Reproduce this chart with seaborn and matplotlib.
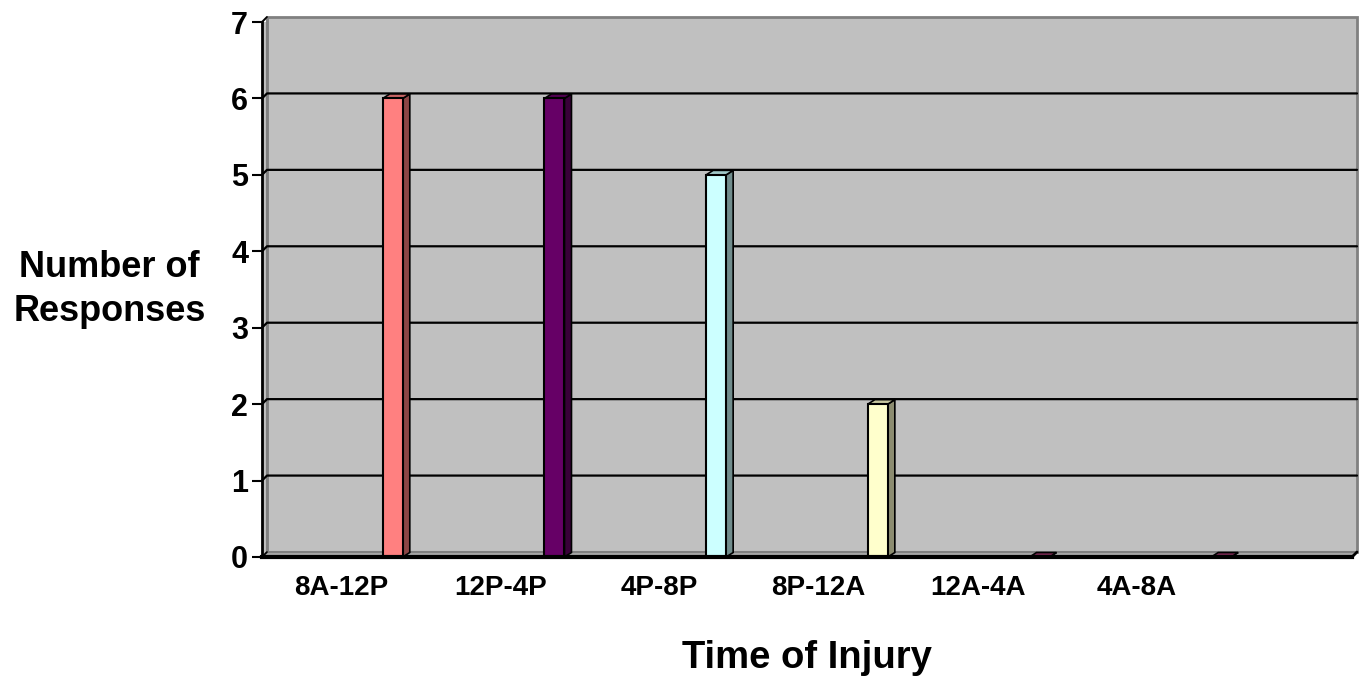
import numpy as np
import pandas as pd
import seaborn as sns
import matplotlib
matplotlib.use("Agg")
import matplotlib.pyplot as plt
import matplotlib.colors as mcolors
from matplotlib.patches import Polygon, Rectangle

# Reported injuries by time-of-day window
categories = ["8A-12P", "12P-4P", "4P-8P", "8P-12A", "12A-4A", "4A-8A"]
responses = [6, 6, 5, 2, 0, 0]
series_of_category = ["S6", "S5", "S4", "S3", "S2", "S2"]
series_order = ["S2", "S3", "S4", "S5", "S6"]
series_colors = {
    "S2": "#993366",
    "S3": "#FFFFCC",
    "S4": "#CCFFFF",
    "S5": "#660066",
    "S6": "#FF8080",
}
y_ticks = [0, 1, 2, 3, 4, 5, 6, 7]

df = pd.DataFrame({"window": categories, "responses": responses, "series": series_of_category})

sns.set_theme(style="white")
plt.rcParams["font.family"] = ["Liberation Sans", "DejaVu Sans"]
plt.rcParams["font.weight"] = "bold"

W, H = 1364, 677
fig = plt.figure(figsize=(W / 100, H / 100), dpi=100)
ax_l, ax_b, ax_w, ax_h = 262, 120, 1090, 535
ax = fig.add_axes([ax_l / W, ax_b / H, ax_w / W, ax_h / H])
ax.set_facecolor("#C0C0C0")

sns.barplot(
    data=df, x="window", y="responses", hue="series",
    order=categories, hue_order=series_order, palette=series_colors,
    dodge=True, width=0.55, saturation=1, errorbar=None,
    edgecolor="black", linewidth=1.5, legend=False, ax=ax, zorder=4,
)
bars = list(ax.patches)

ax.set_ylim(0, 7)
ax.set_xlim(-0.5, len(categories) - 0.5)

# depth of the back wall (pixels -> axes / data units)
px_x = ax_w / len(categories)      # pixels per category
px_y = ax_h / 7.0                  # pixels per unit
wall_dx = 5 / ax_w
wall_dy_ax = 5 / ax_h
wall_dy = 5 / px_y

# back wall
wall = Rectangle((wall_dx, wall_dy_ax), 1, 1, transform=ax.transAxes,
                 facecolor="#C0C0C0", edgecolor="#808080", lw=2,
                 zorder=0.5, clip_on=False)
ax.add_patch(wall)

# floor strip
floor = Polygon([(0, 0), (1, 0), (1 + wall_dx, wall_dy_ax), (wall_dx, wall_dy_ax)],
                closed=True, transform=ax.transAxes, facecolor="#A8A8A8",
                edgecolor="#808080", lw=1.5, zorder=1, clip_on=False)
ax.add_patch(floor)
ax.plot([1, 1 + wall_dx], [0, wall_dy_ax], transform=ax.transAxes,
        color="black", lw=2, zorder=1.2, clip_on=False)
ax.plot([0, wall_dx], [1, 1 + wall_dy_ax], transform=ax.transAxes,
        color="#808080", lw=1.5, zorder=1.2, clip_on=False)
ax.plot([wall_dx, wall_dx], [wall_dy_ax, 1 + wall_dy_ax], transform=ax.transAxes,
        color="#808080", lw=1.5, zorder=1.2, clip_on=False)

# gridlines on the back wall, joined to the tick marks
ytr = ax.get_yaxis_transform()
for v in y_ticks[1:-1]:
    ax.plot([0, wall_dx, 1 + wall_dx], [v, v + wall_dy, v + wall_dy],
            transform=ytr, color="black", lw=1.6, zorder=2, clip_on=False)
for v in (0, 7):
    ax.plot([0, wall_dx], [v, v + wall_dy], transform=ytr,
            color="black", lw=1.2, zorder=2, clip_on=False)


def shade(c, f):
    r, g, b, _ = mcolors.to_rgba(c)
    return (r * f, g * f, b * f)


# 3-D sides and tops for each column
bar_dx = 7 / px_x
bar_dy = 4.5 / px_y
for p in bars:
    x0, w, h = p.get_x(), p.get_width(), p.get_height()
    fc = p.get_facecolor()
    side = Polygon([(x0 + w, 0), (x0 + w + bar_dx, bar_dy),
                    (x0 + w + bar_dx, h + bar_dy), (x0 + w, h)],
                   closed=True, facecolor=shade(fc, 0.55), edgecolor="black",
                   lw=1.2, zorder=3.8, clip_on=False)
    top = Polygon([(x0, h), (x0 + bar_dx, h + bar_dy),
                   (x0 + w + bar_dx, h + bar_dy), (x0 + w, h)],
                  closed=True, facecolor=shade(fc, 0.78), edgecolor="black",
                  lw=1.2, zorder=3.9, clip_on=False)
    ax.add_patch(side)
    ax.add_patch(top)
    p.set_clip_on(False)

# axes frame
for s in ("top", "right"):
    ax.spines[s].set_visible(False)
ax.spines["left"].set_color("black")
ax.spines["left"].set_linewidth(2)
ax.spines["bottom"].set_color("black")
ax.spines["bottom"].set_linewidth(3)
ax.spines["left"].set_zorder(5)
ax.spines["bottom"].set_zorder(5)

# category labels sit on a slightly compressed front scale
label_step = 0.876
label_start = -0.065
ax.set_xticks(label_start + label_step * np.arange(len(categories)))
ax.set_xticklabels(categories)

ax.set_yticks(y_ticks)
ax.set_yticklabels([str(t) for t in y_ticks])
ax.tick_params(axis="y", left=True, length=7, width=1.5, color="black",
               labelsize=22, pad=3, direction="out")
ax.tick_params(axis="x", bottom=False, length=0, labelsize=20, pad=13)
for lbl in ax.get_xticklabels() + ax.get_yticklabels():
    lbl.set_fontweight("bold")
    lbl.set_color("black")

ax.set_xlabel("Time of Injury", fontsize=27.5, fontweight="bold", labelpad=28, color="black")
ax.set_ylabel("Number of\nResponses", fontsize=26, fontweight="bold", rotation=0,
              ha="center", va="center", color="black", linespacing=1.3)
ax.yaxis.set_label_coords(-0.14, 0.5)
ax.grid(False)

fig.savefig("out.png", dpi=100, facecolor="white")
